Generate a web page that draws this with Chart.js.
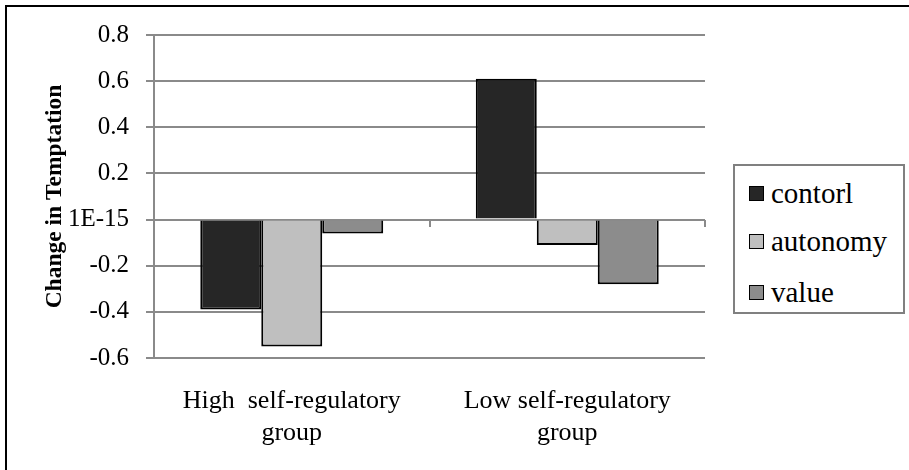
<!DOCTYPE html>
<html>
<head>
<meta charset="utf-8">
<script src="https://cdn.jsdelivr.net/npm/chart.js@4/dist/chart.umd.min.js"></script>
<style>
  body { margin: 0; background: #fff; }
  #wrap { position: relative; width: 909px; height: 470px; overflow: hidden; }
  #frame { position: absolute; left: 5px; top: 5px; width: 920px; height: 480px;
           border-left: 2px solid #000; border-top: 2px solid #000; }
  #legend { position: absolute; left: 733px; top: 164px; width: 168px; height: 146px;
            border: 2px solid #808080; background: #fff; }
  .item { position: absolute; left: 14px; height: 30px; display: flex; align-items: center;
          font-family: 'Liberation Serif', Tinos, Times, 'DejaVu Serif', serif;
          font-size: 29px; color: #000; white-space: nowrap; }
  .sw { width: 13px; height: 13px; border: 1.5px solid #000; margin-right: 7px; flex: none; }
</style>
</head>
<body>
<div id="wrap">
  <canvas id="canva1" width="909" height="470"></canvas>
  <div id="frame"></div>
  <div id="legend"></div>
</div>
<script>
const Groups = [['High  self-regulatory', 'group'], ['Low self-regulatory', 'group']];
const SeriesNames = ['contorl', 'autonomy', 'value'];
const Control = [-0.39, 0.61];
const Autonomy = [-0.55, -0.11];
const Value = [-0.06, -0.28];
const yTickLabels = ['-0.6', '-0.4', '-0.2', '1E-15', '0.2', '0.4', '0.6', '0.8'];

const serif = "'Liberation Serif', Tinos, Times, 'DejaVu Serif', serif";
const gridGray = '#8a8a8a';
const barColors = ['#262626', '#bfbfbf', '#8c8c8c'];

const makeSet = (label, data, color) => ({
    label: label,
    data: data,
    backgroundColor: color,
    borderColor: '#000',
    borderWidth: 2,
    barPercentage: 1.0,
    categoryPercentage: 0.664,
});

const chartData = {
    labels: Groups,
    datasets: [
        makeSet(SeriesNames[0], Control, barColors[0]),
        makeSet(SeriesNames[1], Autonomy, barColors[1]),
        makeSet(SeriesNames[2], Value, barColors[2]),
    ]
};

var ctx1 = document.getElementById('canva1').getContext('2d');
const myChart = new Chart(ctx1, {
    type: 'bar',
    data: chartData,
    options: {
        responsive: false,
        animation: false,
        layout: { padding: { left: 0, right: 204, top: 35, bottom: 0 } },
        plugins: {
            legend: { display: false },
            tooltip: { enabled: false },
        },
        scales: {
            y: {
                min: -0.6,
                max: 0.8,
                afterFit: (scale) => { scale.width = 154; },
                ticks: {
                    stepSize: 0.2,
                    color: '#000',
                    padding: 17,
                    font: { family: serif, size: 25 },
                    callback: (v, i) => yTickLabels[i],
                },
                grid: { color: gridGray, lineWidth: 2, tickLength: 8 },
                border: { display: true, color: gridGray, width: 2 },
                title: {
                    display: true,
                    text: 'Change in Temptation',
                    color: '#000',
                    font: { family: serif, size: 23.5, weight: 'bold' },
                    padding: { top: 41, bottom: 0 },
                },
            },
            x: {
                position: { y: 0 },
                offset: true,
                ticks: { display: false },
                grid: { offset: true, drawOnChartArea: false, color: gridGray, lineWidth: 2, tickLength: 7 },
                border: { display: false },
            },
            x2: {
                type: 'category',
                position: 'bottom',
                labels: Groups,
                offset: true,
                afterFit: (scale) => { scale.height = 112; },
                grid: { display: false, drawTicks: false },
                border: { display: false },
                ticks: {
                    color: '#000',
                    padding: 27,
                    maxRotation: 0,
                    font: { family: serif, size: 26, lineHeight: 1.23 },
                },
            },
        },
    },
});

// legend box, built from the chart's own datasets
const legendEl = document.getElementById('legend');
const itemTops = [12, 60, 111];
myChart.data.datasets.forEach((ds, i) => {
    const item = document.createElement('div');
    item.className = 'item';
    item.style.top = itemTops[i] + 'px';
    item.innerHTML = '<span class="sw" style="background:' + ds.backgroundColor + '"></span>' + ds.label;
    legendEl.appendChild(item);
});
</script>
</body>
</html>
